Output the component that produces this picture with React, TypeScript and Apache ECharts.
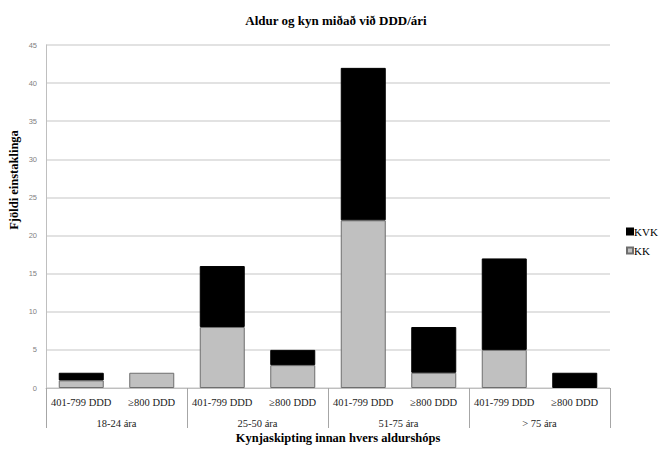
import React, { useEffect, useRef } from "react";
import * as echarts from "echarts";

const barLabels = ["401-799 DDD", "≥800 DDD", "401-799 DDD", "≥800 DDD", "401-799 DDD", "≥800 DDD", "401-799 DDD", "≥800 DDD"];
const groups = ["18-24 ára", "25-50 ára", "51-75 ára", "> 75 ára"];
const kk = [1, 2, 8, 3, 22, 2, 5, 0];
const kvk = [1, 0, 8, 2, 20, 6, 12, 2];
const yName = "Fjöldi einstaklinga";

const serif = "Liberation Serif";

export default function App() {
  const ref = useRef<HTMLDivElement>(null);
  useEffect(() => {
    const chart = echarts.init(ref.current!, undefined, { renderer: "svg" });
    chart.setOption({
      animation: false,
      backgroundColor: "#ffffff",
      textStyle: { fontFamily: serif },
      title: {
        text: "Aldur og kyn miðað við DDD/ári",
        left: 331,
        textAlign: "center",
        top: 9,
        textStyle: { fontFamily: serif, fontSize: 13, fontWeight: "bold", color: "#000" },
      },
      legend: {
        orient: "vertical",
        left: 621,
        top: 221,
        itemWidth: 6,
        itemHeight: 6,
        itemGap: 8,
        icon: "rect",
        data: ["KVK", "KK"],
        textStyle: { fontFamily: serif, fontSize: 11, color: "#000", padding: [0, 0, 0, -4] },
      },
      graphic: [
        {
          type: "text",
          x: 14,
          y: 180,
          rotation: Math.PI / 2,
          style: {
            text: yName,
            fontFamily: serif,
            fontSize: 12.5,
            fontWeight: "bold",
            fill: "#000",
            textAlign: "center",
            textVerticalAlign: "middle",
          },
        },
      ],
      grid: { left: 46, right: 53, top: 45, bottom: 62, containLabel: false },
      xAxis: [
        {
          type: "category",
          data: barLabels,
          position: "bottom",
          axisLine: { show: false },
          axisTick: { show: false },
          axisLabel: { margin: 9, fontFamily: serif, fontSize: 10.5, color: "#222", interval: 0 },
          name: "Kynjaskipting innan hvers aldurshóps",
          nameLocation: "middle",
          nameGap: 43,
          nameTextStyle: { fontFamily: serif, fontSize: 12.5, fontWeight: "bold", color: "#000", padding: [0, 0, 0, 20] },
        },
        {
          type: "category",
          data: groups,
          position: "bottom",
          axisLine: { show: true, lineStyle: { color: "#bfbfbf", width: 1 } },
          axisTick: { show: true, length: 40, lineStyle: { color: "#a6a6a6", width: 1 } },
          axisLabel: { margin: 30, fontFamily: serif, fontSize: 10.5, color: "#222" },
        },
      ],
      yAxis: {
        type: "value",
        min: 0,
        max: 45,
        interval: 5,
        axisLine: { show: true, lineStyle: { color: "#bfbfbf", width: 1 } },
        axisTick: { show: false },
        axisLabel: { fontFamily: "Liberation Sans", fontSize: 7.5, color: "#7f7f7f", margin: 9 },
        splitLine: { lineStyle: { color: "#d9d9d9", width: 1.5 } },
      },
      series: [
        {
          name: "KK",
          type: "bar",
          stack: "a",
          xAxisIndex: 0,
          data: kk.map((v) => (v === 0 ? null : v)),
          barWidth: 45,
          itemStyle: { color: "#c0c0c0", borderColor: "#6e6e6e", borderWidth: 1 },
        },
        {
          name: "KVK",
          type: "bar",
          stack: "a",
          xAxisIndex: 0,
          data: kvk.map((v) => (v === 0 ? null : v)),
          barWidth: 45,
          itemStyle: { color: "#000000", borderColor: "#000", borderWidth: 1 },
        },
      ],
    });
    return () => chart.dispose();
  }, []);
  return <div ref={ref} style={{ width: 663, height: 450, position: "absolute", left: 0, top: 0 }} />;
}
